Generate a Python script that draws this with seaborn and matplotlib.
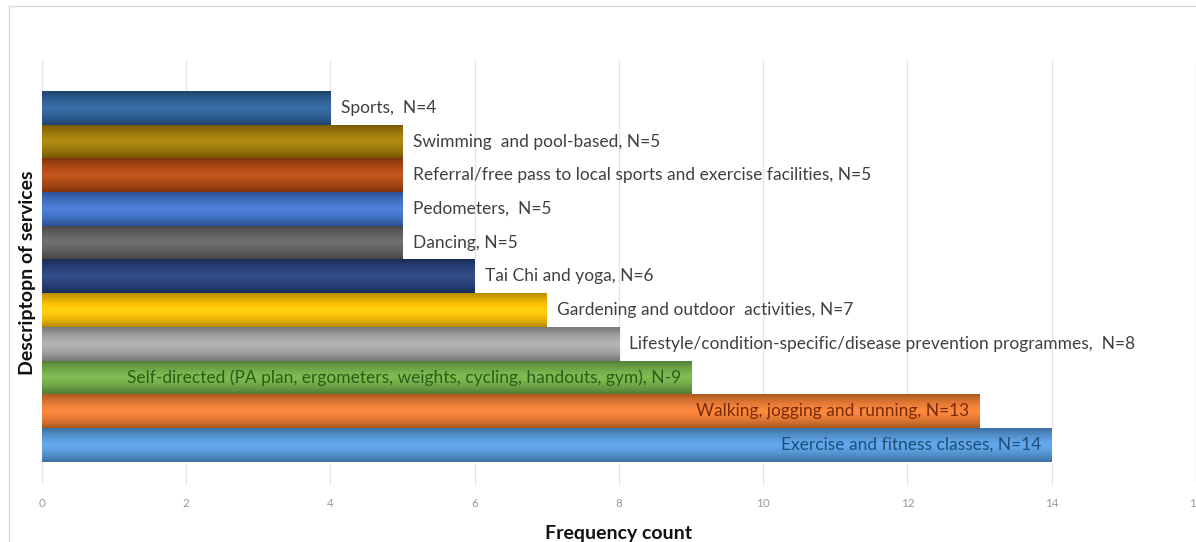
import numpy as np
import matplotlib
matplotlib.use('Agg')
import matplotlib.pyplot as plt
from matplotlib.patches import Rectangle
import pandas as pd
import seaborn as sns

# Data (top to bottom as in the chart)
services = ['Sports', 'Swimming and pool-based', 'Referral/free pass to local sports and exercise facilities',
            'Pedometers', 'Dancing', 'Tai Chi and yoga', 'Gardening and outdoor  activities',
            'Lifestyle/condition-specific/disease prevention programmes',
            'Self-directed (PA plan, ergometers, weights, cycling, handouts, gym)',
            'Walking, jogging and running', 'Exercise and fitness classes']
counts = [4, 5, 5, 5, 5, 6, 7, 8, 9, 13, 14]
labels = ['Sports,  N=4', 'Swimming  and pool-based, N=5',
          'Referral/free pass to local sports and exercise facilities, N=5',
          'Pedometers,  N=5', 'Dancing, N=5', 'Tai Chi and yoga, N=6',
          'Gardening and outdoor  activities, N=7',
          'Lifestyle/condition-specific/disease prevention programmes,  N=8',
          'Self-directed (PA plan, ergometers, weights, cycling, handouts, gym), N-9',
          'Walking, jogging and running, N=13', 'Exercise and fitness classes, N=14']
colors = ['#2b5f97', '#a27a04', '#b2470f', '#3f72cc', '#616161', '#233f78',
          '#fec200', '#a6a6a6', '#6fad45', '#ee7b30', '#559ade']
inside = [False] * 8 + [True] * 3
inside_text = ['#2a5e16', '#7a2a08', '#1f4e79']

df = pd.DataFrame({'service': services, 'count': counts})

sns.set_style('white')
plt.rcParams['font.family'] = ['Lato', 'DejaVu Sans']

fig = plt.figure(figsize=(11.96, 5.42), dpi=100)
ax = fig.add_axes([0.0351, 0.105, 0.9649, 0.784])

sns.barplot(data=df, x='count', y='service', hue='service', palette=colors,
            width=1.0, legend=False, ax=ax, saturation=1)

# shade each bar with a vertical gradient (darker at the edges)
t = np.linspace(0, 1, 64)
prof = 1.0 - 0.28 * np.abs(2 * t - 1) ** 1.6
for p, c in zip(ax.patches, colors):
    rgb = np.array(matplotlib.colors.to_rgb(c))
    grad = np.clip(prof[:, None] * rgb[None, :] + 0.06 * (1 - np.abs(2 * t - 1))[:, None], 0, 1)
    img = np.repeat(grad[:, None, :], 2, axis=1)
    x0, y0 = p.get_x(), p.get_y()
    w, h = p.get_width(), p.get_height()
    im = ax.imshow(img, extent=[x0, x0 + w, y0 + h, y0], aspect='auto',
                   interpolation='bilinear', zorder=p.get_zorder() + 0.1)
    im.set_clip_path(p)

# labels
k = 0
for i, (n, lab) in enumerate(zip(counts, labels)):
    if inside[i]:
        ax.text(n - 0.14, i, lab, ha='right', va='center', fontsize=12.5,
                color=inside_text[k], zorder=5)
        k += 1
    else:
        ax.text(n + 0.14, i, lab, ha='left', va='center', fontsize=12.5,
                color='#404040', zorder=5)

ax.set_xlim(0, 16)
ax.set_ylim(11.2, -1.42)
ax.set_xticks(range(0, 17, 2))
ax.set_yticks([])
ax.grid(axis='x', color='#e6e6e6', linewidth=1)
ax.set_axisbelow(True)
for s in ax.spines.values():
    s.set_visible(False)
ax.tick_params(axis='x', length=0, labelsize=8.5, labelcolor='#9a9a9a', pad=9)
ax.set_xlabel('Frequency count', fontsize=14, fontweight='bold', color='#111111', labelpad=12)
ax.set_ylabel('Descriptopn of services', fontsize=14, fontweight='bold', color='#111111')
ax.yaxis.set_label_coords(-0.005, 0.5)

# light chart border
fig.patches.append(Rectangle((9 / 1196, -0.01), 1.0, 1 - 6 / 542 + 0.01, transform=fig.transFigure,
                             fill=False, edgecolor='#d9d9d9', linewidth=1, zorder=0))

fig.savefig('out.png', dpi=100)
